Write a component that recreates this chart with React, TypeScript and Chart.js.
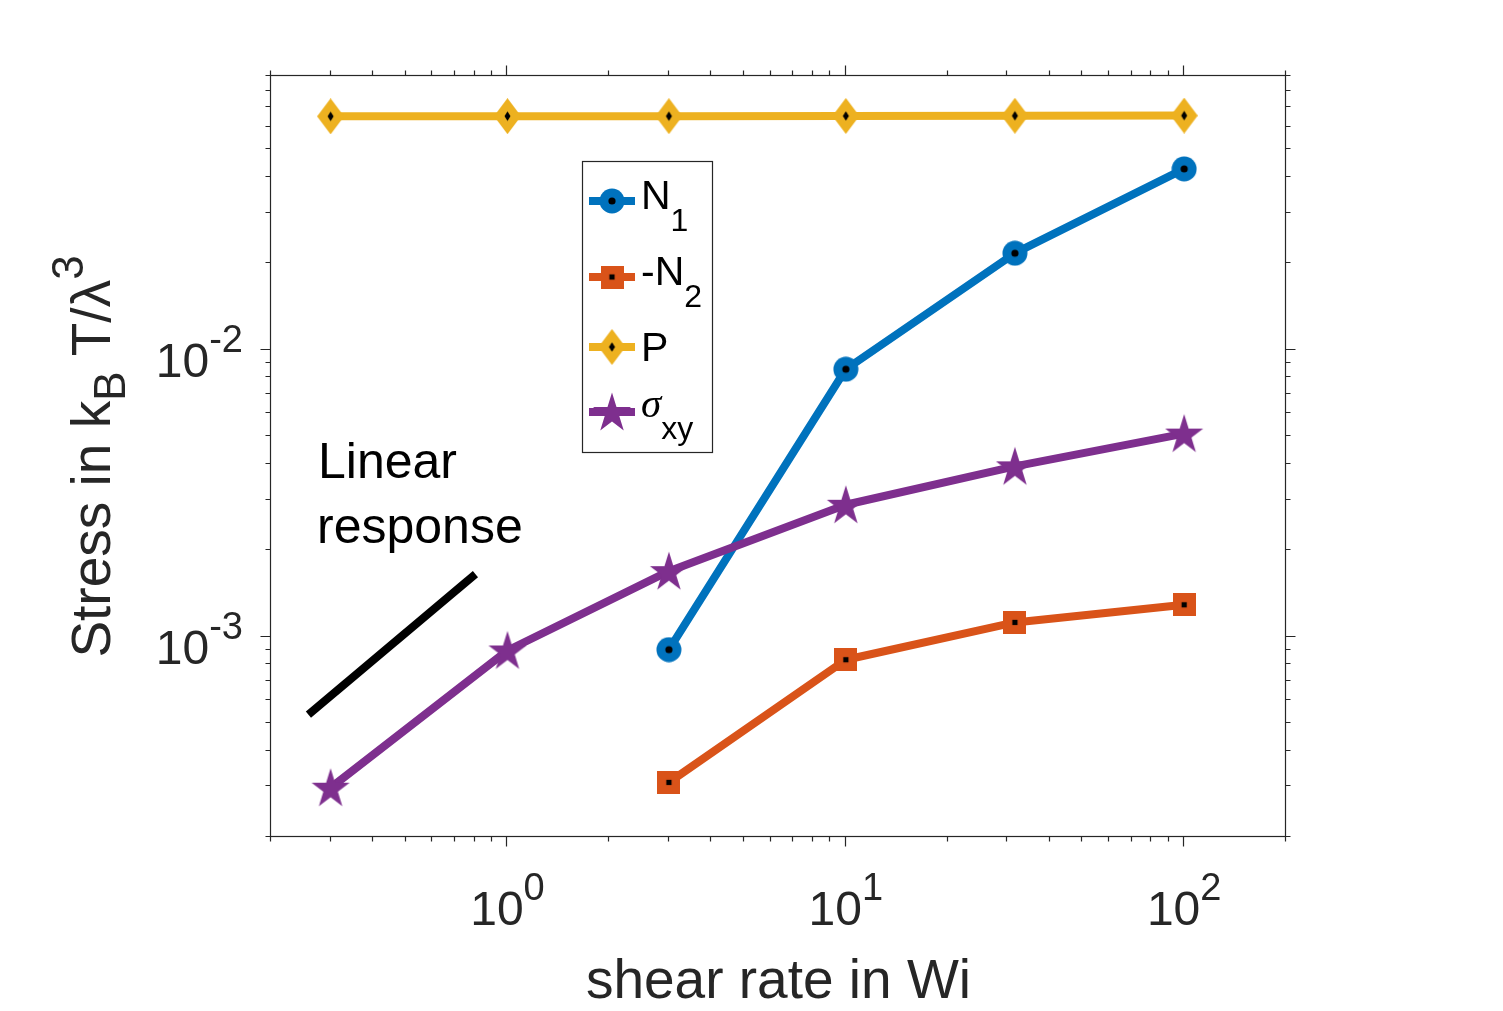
import React, { useEffect, useRef } from 'react';
import { Chart, registerables } from 'chart.js';

Chart.register(...registerables);

// ---- data ----
const shearRate = [0.3, 1, 3, 10, 31.6, 100];
const shearRateN = [3, 10, 31.6, 100];
const n1Values = [9.0e-4, 8.55e-3, 0.0217, 0.0427];
const negN2Values = [3.1e-4, 8.3e-4, 1.12e-3, 1.29e-3];
const pValues = [0.0651, 0.0652, 0.0652, 0.0653, 0.0654, 0.0655];
const sigmaXYValues = [2.97e-4, 8.94e-4, 1.69e-3, 2.88e-3, 3.92e-3, 5.1e-3];
const linearRefX = [0.258, 0.804];
const linearRefY = [5.34e-4, 1.65e-3];

// ---- axes ----
const xMin = 0.2;
const xMax = 200;
const yMin = 2e-4;
const yMax = 0.09;
const xMajorTicks = [1, 10, 100];
const xMajorExps = ['0', '1', '2'];
const yMajorTicks = [1e-3, 1e-2];
const yMajorExps = ['-3', '-2'];
const xMinorTicks = [0.2, 0.3, 0.4, 0.5, 0.6, 0.7, 0.8, 0.9, 2, 3, 4, 5, 6, 7, 8, 9, 20, 30, 40, 50, 60, 70, 80, 90, 200];
const yMinorTicks = [2e-4, 3e-4, 4e-4, 5e-4, 6e-4, 7e-4, 8e-4, 9e-4, 2e-3, 3e-3, 4e-3, 5e-3, 6e-3, 7e-3, 8e-3, 9e-3, 2e-2, 3e-2, 4e-2, 5e-2, 6e-2, 7e-2, 8e-2, 9e-2];

const xTitle = 'shear rate in Wi';
const annotationLines = ['Linear', 'response'];

const BLUE = '#0072BD';
const ORANGE = '#D95319';
const YELLOW = '#EDB120';
const PURPLE = '#7E2F8E';
const AXIS = '#262626';
const FONT = '"Liberation Sans", Arial, Helvetica, sans-serif';

type MarkerKind = 'circle' | 'square' | 'diamond' | 'star';

function makeMarker(kind: MarkerKind, color: string): HTMLCanvasElement {
  const c = document.createElement('canvas');
  let w = 26, h = 26;
  if (kind === 'square') { w = 23; h = 23; }
  if (kind === 'diamond') { w = 27; h = 36; }
  if (kind === 'star') { w = 42; h = 42; }
  c.width = w; c.height = h;
  const g = c.getContext('2d')!;
  g.fillStyle = color;
  const cx = w / 2, cy = h / 2;
  if (kind === 'circle') {
    g.beginPath(); g.arc(cx, cy, 12.5, 0, Math.PI * 2); g.fill();
    g.fillStyle = '#000';
    g.beginPath(); g.arc(cx, cy, 3.6, 0, Math.PI * 2); g.fill();
  } else if (kind === 'square') {
    g.fillRect(0, 0, w, h);
    g.fillStyle = '#000';
    g.fillRect(cx - 2.6, cy - 2.6, 5.2, 5.2);
  } else if (kind === 'diamond') {
    g.beginPath(); g.moveTo(cx, 0); g.lineTo(w, cy); g.lineTo(cx, h); g.lineTo(0, cy); g.closePath(); g.fill();
    g.fillStyle = '#000';
    g.beginPath(); g.moveTo(cx, cy - 4.8); g.lineTo(cx + 3, cy); g.lineTo(cx, cy + 4.8); g.lineTo(cx - 3, cy); g.closePath(); g.fill();
  } else {
    const R = 20, r = R * 0.382;
    g.beginPath();
    for (let i = 0; i < 10; i++) {
      const rad = i % 2 === 0 ? R : r;
      const a = -Math.PI / 2 + (i * Math.PI) / 5;
      const px = cx + rad * Math.cos(a);
      const py = cy + 1.5 + rad * Math.sin(a) * 1.05;
      if (i === 0) g.moveTo(px, py); else g.lineTo(px, py);
    }
    g.closePath(); g.fill();
  }
  return c;
}

type Seg = { text: string; size: number; dy?: number; italic?: boolean; family?: string };

function segFont(s: Seg) {
  return `${s.italic ? 'italic ' : ''}${s.size}px ${s.family || FONT}`;
}

function richWidth(ctx: CanvasRenderingContext2D, segs: Seg[]) {
  let t = 0;
  for (const s of segs) { ctx.font = segFont(s); t += ctx.measureText(s.text).width; }
  return t;
}

function drawRich(ctx: CanvasRenderingContext2D, segs: Seg[], x: number, y: number, align: 'left' | 'center' | 'right') {
  const total = richWidth(ctx, segs);
  let cx = align === 'left' ? x : align === 'center' ? x - total / 2 : x - total;
  ctx.textAlign = 'left';
  ctx.textBaseline = 'alphabetic';
  for (const s of segs) {
    ctx.font = segFont(s);
    ctx.fillText(s.text, cx, y + (s.dy || 0));
    cx += ctx.measureText(s.text).width;
  }
}

export default function App() {
  const ref = useRef<HTMLCanvasElement | null>(null);

  useEffect(() => {
    if (!ref.current) return;
    const markers = {
      n1: makeMarker('circle', BLUE),
      n2: makeMarker('square', ORANGE),
      p: makeMarker('diamond', YELLOW),
      s: makeMarker('star', PURPLE),
    };

    const legendEntries = [
      { main: 'N', sub: '1', color: BLUE, marker: markers.n1, y: 201, base: 8, italic: false },
      { main: '-N', sub: '2', color: ORANGE, marker: markers.n2, y: 277, base: 8, italic: false },
      { main: 'P', sub: '', color: YELLOW, marker: markers.p, y: 347, base: 14, italic: false },
      { main: 'σ', sub: 'xy', color: PURPLE, marker: markers.s, y: 412, base: 5, italic: true },
    ];

    const axesPlugin = {
      id: 'matlabAxes',
      afterDraw(chart: any) {
        const ctx: CanvasRenderingContext2D = chart.ctx;
        const xs = chart.scales.x;
        const ys = chart.scales.y;
        const { left, right, top, bottom } = chart.chartArea;
        ctx.save();

        // box
        ctx.strokeStyle = AXIS;
        ctx.lineWidth = 1.2;
        ctx.strokeRect(left - 0.5, top - 0.5, right - left, bottom - top);

        // ticks (outward, all four sides)
        const tickX = (v: number, len: number) => {
          const px = Math.round(xs.getPixelForValue(v)) - 0.5;
          ctx.beginPath();
          ctx.moveTo(px, bottom - 0.5); ctx.lineTo(px, bottom - 0.5 + len);
          ctx.moveTo(px, top - 0.5); ctx.lineTo(px, top - 0.5 - len);
          ctx.stroke();
        };
        const tickY = (v: number, len: number) => {
          const py = Math.round(ys.getPixelForValue(v)) - 0.5;
          ctx.beginPath();
          ctx.moveTo(left - 0.5, py); ctx.lineTo(left - 0.5 - len, py);
          ctx.moveTo(right - 0.5, py); ctx.lineTo(right - 0.5 + len, py);
          ctx.stroke();
        };
        ctx.lineWidth = 1.2;
        xMinorTicks.forEach((v) => tickX(v, 5));
        xMajorTicks.forEach((v) => tickX(v, 10));
        yMinorTicks.forEach((v) => tickY(v, 5));
        yMajorTicks.forEach((v) => tickY(v, 10));

        // tick labels
        ctx.fillStyle = AXIS;
        xMajorTicks.forEach((v, i) => {
          const px = xs.getPixelForValue(v);
          drawRich(ctx, [
            { text: '10', size: 48 },
            { text: xMajorExps[i], size: 38, dy: -25 },
          ], px, bottom + 88, 'center');
        });
        yMajorTicks.forEach((v, i) => {
          const py = ys.getPixelForValue(v);
          drawRich(ctx, [
            { text: '10', size: 48 },
            { text: yMajorExps[i], size: 38, dy: -25 },
          ], left - 28, py + 27, 'right');
        });

        // axis titles
        drawRich(ctx, [{ text: xTitle, size: 55 }], (left + right) / 2, bottom + 161, 'center');
        ctx.save();
        ctx.translate(110, (top + bottom) / 2);
        ctx.rotate(-Math.PI / 2);
        drawRich(ctx, [
          { text: 'Stress in k', size: 55 },
          { text: 'B', size: 44, dy: 15 },
          { text: ' T/λ', size: 55 },
          { text: '3', size: 44, dy: -27 },
        ], 0, 0, 'center');
        ctx.restore();

        // annotation
        ctx.fillStyle = '#000';
        drawRich(ctx, [{ text: annotationLines[0], size: 50 }], 318, 478, 'left');
        drawRich(ctx, [{ text: annotationLines[1], size: 50 }], 317, 543, 'left');

        // legend
        const lx = 582.5, ly = 161.5, lw = 130, lh = 291;
        ctx.fillStyle = '#fff';
        ctx.fillRect(lx, ly, lw, lh);
        ctx.strokeStyle = AXIS;
        ctx.lineWidth = 1.2;
        ctx.strokeRect(lx, ly, lw, lh);
        legendEntries.forEach((e) => {
          ctx.strokeStyle = e.color;
          ctx.lineWidth = 8;
          ctx.lineCap = 'butt';
          ctx.beginPath();
          ctx.moveTo(589, e.y); ctx.lineTo(635, e.y);
          ctx.stroke();
          ctx.drawImage(e.marker, 612 - e.marker.width / 2, e.y - e.marker.height / 2);
          ctx.fillStyle = '#000';
          const segs: Seg[] = [{ text: e.main, size: 41, italic: e.italic, family: e.italic ? '"Liberation Serif", serif' : undefined }];
          if (e.sub) segs.push({ text: e.sub, size: 32, dy: 22 });
          drawRich(ctx, segs, 641, e.y + e.base, 'left');
        });

        ctx.restore();
      },
    };

    const pts = (xs: number[], ys: number[]) => xs.map((x, i) => ({ x, y: ys[i] }));
    const lineDs = (label: string, data: any[], color: string, marker: HTMLCanvasElement, order: number) => ({
      label,
      data,
      borderColor: color,
      backgroundColor: color,
      borderWidth: 8,
      borderJoinStyle: 'round' as const,
      pointStyle: marker,
      pointRadius: 12,
      tension: 0,
      order,
    });

    const chart = new Chart(ref.current, {
      type: 'line',
      data: {
        datasets: [
          {
            label: 'Linear response',
            data: pts(linearRefX, linearRefY),
            borderColor: '#000',
            borderWidth: 8,
            pointRadius: 0,
            tension: 0,
            order: 5,
          },
          lineDs('P', pts(shearRate, pValues), YELLOW, markers.p, 4),
          lineDs('N1', pts(shearRateN, n1Values), BLUE, markers.n1, 3),
          lineDs('-N2', pts(shearRateN, negN2Values), ORANGE, markers.n2, 2),
          lineDs('sigma_xy', pts(shearRate, sigmaXYValues), PURPLE, markers.s, 1),
        ] as any,
      },
      options: {
        animation: false,
        responsive: false,
        devicePixelRatio: 1,
        events: [],
        layout: { padding: { left: 271, right: 217, top: 76, bottom: 174 } },
        plugins: { legend: { display: false }, tooltip: { enabled: false } },
        scales: {
          x: { type: 'logarithmic', min: xMin, max: xMax, display: false },
          y: { type: 'logarithmic', min: yMin, max: yMax, display: false },
        },
      },
      plugins: [axesPlugin],
    });
    return () => chart.destroy();
  }, []);

  return (
    <div style={{ position: 'fixed', left: 0, top: 0, width: 1503, height: 1011, background: '#fff' }}>
      <canvas ref={ref} width={1503} height={1011} style={{ display: 'block' }} />
    </div>
  );
}
